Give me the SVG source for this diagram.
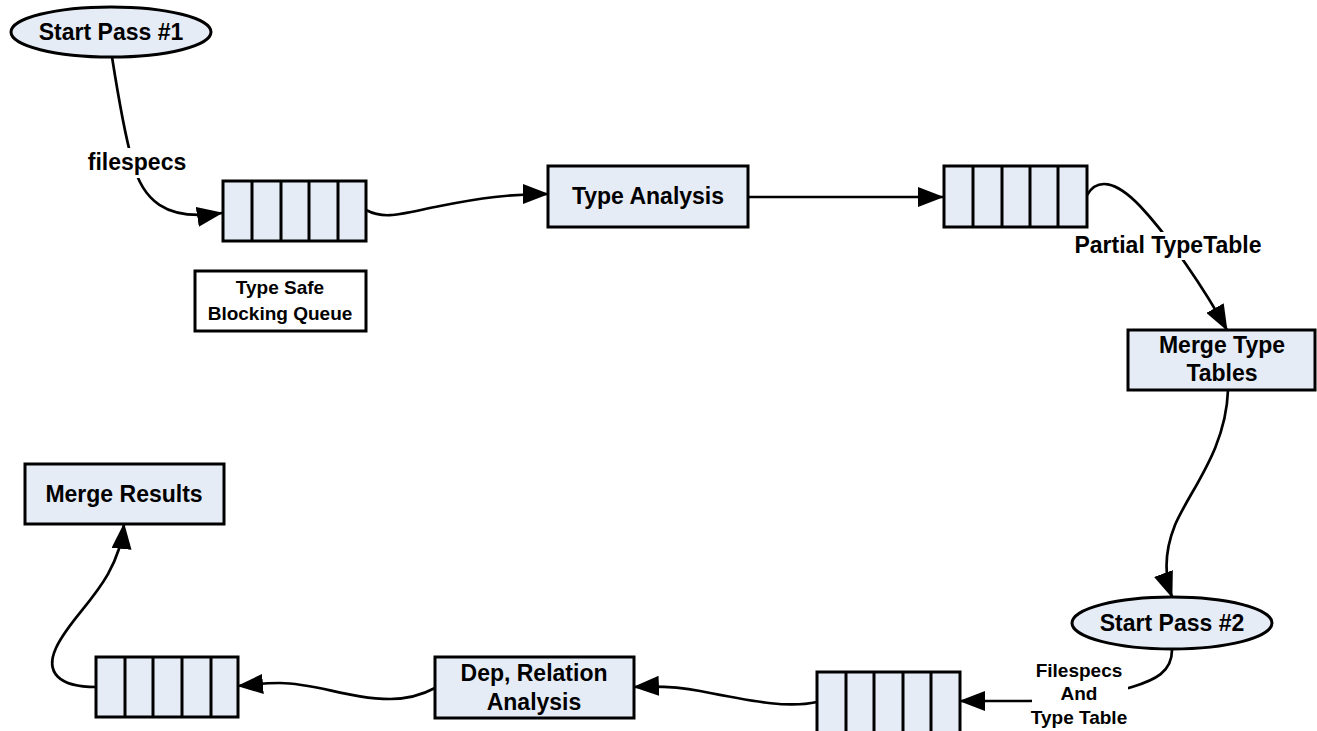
<svg xmlns="http://www.w3.org/2000/svg" width="1317" height="731" viewBox="0 0 1317 731">
<style>
.n{fill:#e6ecf6;stroke:#000;stroke-width:3}
.w{fill:#fff;stroke:#000;stroke-width:3}
.d{stroke:#000;stroke-width:3}
.t{font-family:"Liberation Sans",Arial,sans-serif;font-weight:bold;font-size:23px;text-anchor:middle;fill:#000}
.s{font-size:19px}
.c{fill:none;stroke:#000;stroke-width:2.7}
.bg{fill:#fff}
</style>
<defs>
<marker id="ah" viewBox="0 0 26 20" refX="25" refY="10" markerWidth="26" markerHeight="20" markerUnits="userSpaceOnUse" orient="auto">
<path d="M0,0 L26,10 L0,20 z" fill="#000"/>
</marker>
</defs>
<rect width="1317" height="731" fill="#fff"/>
<g id="connectors">
<path class="c" marker-end="url(#ah)" d="M112,57 C118,95 125,135 132,160 C142,200 165,222 222,213"/>
<path class="c" marker-end="url(#ah)" d="M366,210 C385,220 400,214 440,206 C480,198 510,194 548,194"/>
<path class="c" marker-end="url(#ah)" d="M748,197 L943,197"/>
<path class="c" marker-end="url(#ah)" d="M1087,195 C1097,178 1115,180 1140,206 C1170,238 1205,290 1227,330"/>
<path class="c" marker-end="url(#ah)" d="M1228,390 C1226,450 1190,490 1175,525 C1165,550 1164,575 1172,597"/>
<path class="c" marker-end="url(#ah)" d="M1172,650 C1172,672 1155,680 1132,687 C1100,697 1060,701 1028,701 L960,701"/>
<path class="c" marker-end="url(#ah)" d="M817,702 C790,708 760,703 700,691 C675,686 655,686 634,687"/>
<path class="c" marker-end="url(#ah)" d="M435,688 C420,696 405,699 390,699 C350,699 315,683 280,683 C262,683 250,685 238,686"/>
<path class="c" marker-end="url(#ah)" d="M96,687 C58,687 45,672 56,648 C72,612 118,585 124,524"/>
</g>
<g id="label-filespecs">
<rect class="bg" x="86" y="148" width="104" height="30"/>
<text class="t" x="137" y="170">filespecs</text>
</g>
<g id="label-partial">
<rect class="bg" x="1070" y="232" width="196" height="28"/>
<text class="t" x="1168" y="253">Partial TypeTable</text>
</g>
<g id="label-filespecs2">
<rect class="bg" x="1032" y="655" width="96" height="76"/>
<text class="t s" x="1079" y="677">Filespecs</text>
<text class="t s" x="1079" y="700">And</text>
<text class="t s" x="1079" y="724">Type Table</text>
</g>
<g id="start1">
<ellipse class="n" cx="111" cy="32" rx="100" ry="25"/>
<text class="t" x="111" y="40">Start Pass #1</text>
</g>
<g id="queue1">
<rect class="n" x="223" y="181" width="143" height="60"/>
<path class="d" d="M252,181V241M281,181V241M309,181V241M338,181V241"/>
</g>
<g id="queue-label">
<rect class="w" x="195" y="271" width="171" height="60"/>
<text class="t s" x="280" y="294">Type Safe</text>
<text class="t s" x="280" y="320">Blocking Queue</text>
</g>
<g id="type-analysis">
<rect class="n" x="548" y="166" width="200" height="61"/>
<text class="t" x="648" y="204">Type Analysis</text>
</g>
<g id="queue2">
<rect class="n" x="944" y="166" width="143" height="61"/>
<path class="d" d="M973,166V227M1002,166V227M1030,166V227M1058,166V227"/>
</g>
<g id="merge-type-tables">
<rect class="n" x="1128" y="330" width="187" height="60"/>
<text class="t" x="1222" y="353">Merge Type</text>
<text class="t" x="1222" y="381">Tables</text>
</g>
<g id="start2">
<ellipse class="n" cx="1172" cy="623" rx="100" ry="26"/>
<text class="t" x="1172" y="631">Start Pass #2</text>
</g>
<g id="queue3">
<rect class="n" x="817" y="672" width="143" height="62"/>
<path class="d" d="M846,672V734M874,672V734M903,672V734M931,672V734"/>
</g>
<g id="dep-relation">
<rect class="n" x="435" y="657" width="199" height="61"/>
<text class="t" x="534" y="681">Dep, Relation</text>
<text class="t" x="534" y="710">Analysis</text>
</g>
<g id="queue4">
<rect class="n" x="96" y="657" width="142" height="60"/>
<path class="d" d="M125,657V717M153,657V717M182,657V717M211,657V717"/>
</g>
<g id="merge-results">
<rect class="n" x="25" y="464" width="199" height="60"/>
<text class="t" x="124" y="502">Merge Results</text>
</g>
</svg>
